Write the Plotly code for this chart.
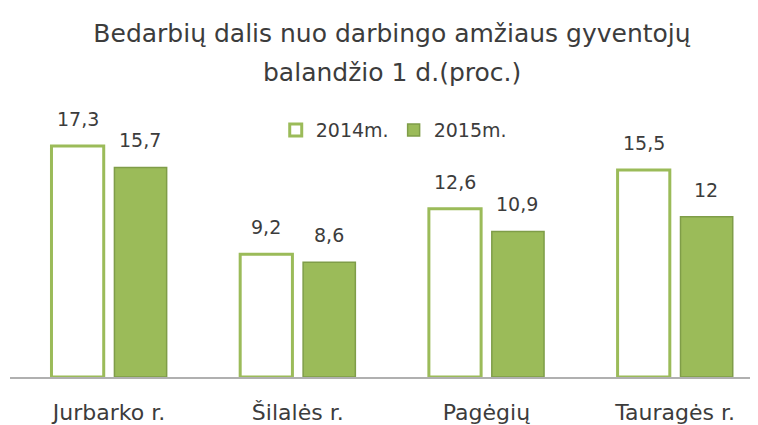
import plotly.graph_objects as go

categories = ["Jurbarko r.", "Šilalės r.", "Pagėgių", "Tauragės r."]
series_names = ["2014m.", "2015m."]
values_2014 = [17.3, 9.2, 12.6, 15.5]
values_2015 = [15.7, 8.6, 10.9, 12]
title_lines = ["Bedarbių dalis nuo darbingo amžiaus gyventojų", "balandžio 1 d.(proc.)"]

def fmt(v):
    return f"{v:g}".replace(".", ",")

font_family = "'DejaVu Sans', sans-serif"
green = "#9BBB59"
text_color = "#3c3c3c"

fig = go.Figure()
fig.add_trace(go.Bar(
    x=categories, y=values_2014, name=series_names[0],
    marker=dict(color="white", line=dict(color=green, width=3)),
))
fig.add_trace(go.Bar(
    x=categories, y=values_2015, name=series_names[1],
    marker=dict(color=green, line=dict(color="#7f9d48", width=1.5)),
))

# data labels placed above bars, through the axis scales
for vals, shift in ((values_2014, -31.5), (values_2015, 31)):
    for c, v in zip(categories, vals):
        fig.add_annotation(
            x=c, y=v, xref="x", yref="y", text=fmt(v), showarrow=False,
            xshift=shift, yshift=14, yanchor="bottom", xanchor="center",
            font=dict(size=19, color=text_color, family=font_family),
        )

# second title line
fig.add_annotation(
    x=0.511, y=(369 - 64) / 267, xref="paper", yref="paper",
    text=title_lines[1], showarrow=False, xanchor="center", yanchor="middle",
    font=dict(size=25, color=text_color, family=font_family),
)

fig.update_layout(
    width=750, height=417,
    paper_bgcolor="white", plot_bgcolor="white",
    margin=dict(l=2, r=0, t=102, b=48),
    barmode="group", bargap=0.333, bargroupgap=0.17,
    title=dict(
        text=title_lines[0],
        x=0.512, xanchor="center", xref="container",
        y=1 - 25 / 417, yanchor="middle", yref="container",
        font=dict(size=25, color=text_color, family=font_family),
    ),
    legend=dict(
        orientation="h", x=0.513, xanchor="center", y=0.925, yanchor="middle",
        font=dict(size=19, color=text_color, family=font_family),
        bgcolor="rgba(0,0,0,0)",
    ),
    xaxis=dict(
        range=[-0.525, 3.439], showgrid=False, showline=True,
        linecolor="#b0b0b0", linewidth=1.5, ticks="",
        ticklabelstandoff=15,
        tickfont=dict(size=22, color=text_color, family=font_family),
    ),
    yaxis=dict(range=[0, 20], visible=False),
    showlegend=True,
)

fig.write_html("out.html")
